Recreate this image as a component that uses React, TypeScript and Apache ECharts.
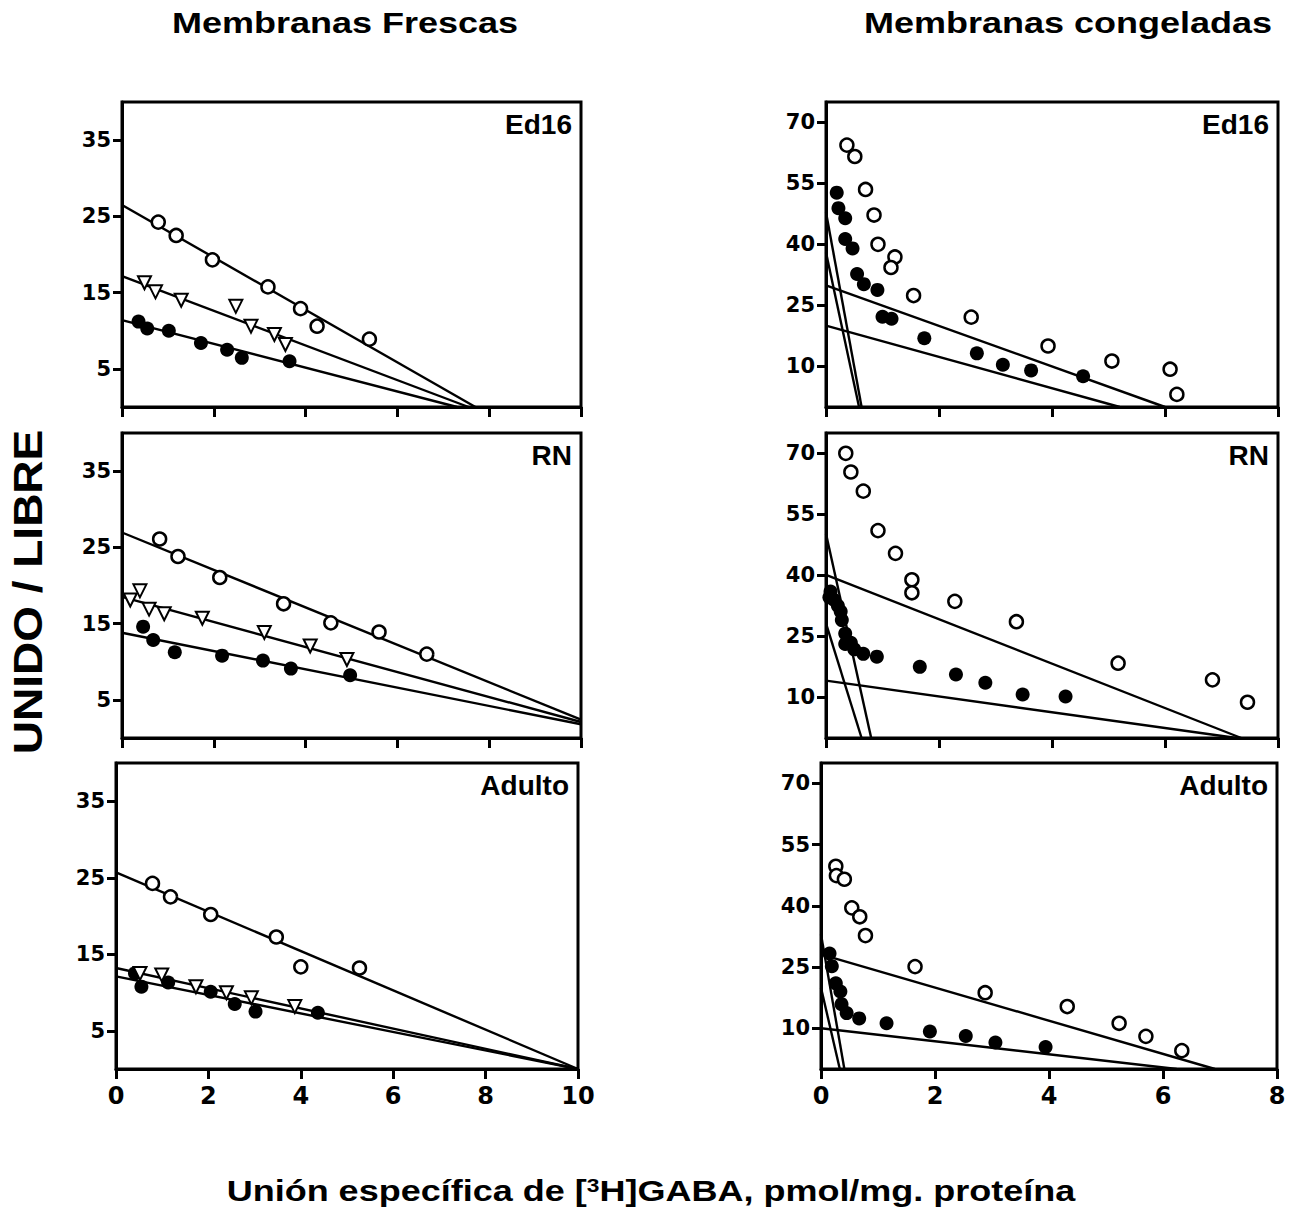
import React, { useEffect, useRef } from "react";
import * as echarts from "echarts";

// ---------- DATA ----------
// Left column: "Membranas Frescas" (x: 0-10, y: 0-40)
const leftYTicks = [5, 15, 25, 35];
const rightYTicks = [10, 25, 40, 55, 70];

// Ed16 fresh
const fEd16Open = [[0.79, 24.25], [1.18, 22.5], [1.97, 19.3], [3.18, 15.75], [3.89, 12.9], [4.25, 10.6], [5.39, 8.9]];
const fEd16Tri = [[0.49, 16.3], [0.73, 15.1], [1.29, 14.0], [2.48, 13.2], [2.81, 10.6], [3.32, 9.5], [3.56, 8.2]];
const fEd16Fill = [[0.36, 11.2], [0.55, 10.3], [1.02, 10.0], [1.72, 8.4], [2.29, 7.5], [2.61, 6.45], [3.65, 6.0]];
const fEd16Lines = [[[0, 26.5], [7.7, 0]], [[0, 17.15], [7.55, 0]], [[0, 11.4], [7.3, 0]]];

// RN fresh
const fRNOpen = [[0.82, 26.1], [1.22, 23.8], [2.13, 21.05], [3.52, 17.6], [4.55, 15.1], [5.6, 13.9], [6.64, 11.0]];
const fRNTri = [[0.18, 18.1], [0.39, 19.3], [0.59, 16.9], [0.92, 16.3], [1.75, 15.7], [3.1, 13.85], [4.1, 12.06], [4.9, 10.3]];
const fRNFill = [[0.46, 14.6], [0.68, 12.85], [1.15, 11.24], [2.18, 10.8], [3.07, 10.15], [3.68, 9.1], [4.97, 8.23]];
const fRNLines = [[[0, 26.95], [10, 2.4]], [[0, 18.5], [10, 2.1]], [[0, 13.8], [10, 1.8]]];

// Adulto fresh
const fAdOpen = [[0.79, 24.26], [1.18, 22.5], [2.05, 20.2], [3.47, 17.25], [4.0, 13.35], [5.27, 13.2]];
const fAdTri = [[0.52, 12.5], [0.99, 12.3], [1.73, 10.76], [2.39, 9.98], [2.93, 9.3], [3.87, 8.16]];
const fAdFill = [[0.41, 12.5], [0.55, 10.76], [1.13, 11.3], [2.05, 10.1], [2.57, 8.5], [3.02, 7.5], [4.37, 7.36]];
const fAdLines = [[[0, 25.7], [10, 0]], [[0, 13.2], [10, 0]], [[0, 12.1], [10, 0]]];

// Right column: "Membranas congeladas" (x: 0-8, y: 0-75)
// Ed16 frozen
const cEd16Open = [[0.37, 64.4], [0.51, 61.6], [0.7, 53.5], [0.85, 47.2], [0.92, 40.0], [1.22, 36.9], [1.15, 34.3], [1.55, 27.4], [2.57, 22.1], [3.93, 15.0], [5.06, 11.3], [6.09, 9.3], [6.21, 3.1]];
const cEd16Fill = [[0.19, 52.7], [0.22, 48.9], [0.34, 46.4], [0.34, 41.3], [0.47, 39.0], [0.55, 32.7], [0.67, 30.2], [0.91, 28.8], [1.0, 22.2], [1.16, 21.7], [1.74, 16.9], [2.67, 13.2], [3.13, 10.4], [3.63, 9.0], [4.55, 7.55]];
const cEd16Lines = [[[0, 47.9], [0.63, 0]], [[0, 38.0], [0.585, 0]], [[0, 29.9], [6.0, 0]], [[0, 20.0], [5.2, 0]]];

// RN frozen
const cRNOpen = [[0.35, 70.0], [0.44, 65.4], [0.66, 60.7], [0.92, 51.0], [1.23, 45.4], [1.52, 38.9], [1.52, 35.7], [2.28, 33.6], [3.37, 28.6], [5.17, 18.4], [6.84, 14.3], [7.46, 8.8]];
const cRNFill = [[0.08, 36.0], [0.06, 34.6], [0.14, 34.0], [0.21, 32.5], [0.26, 31.1], [0.28, 29.0], [0.34, 25.7], [0.34, 23.1], [0.44, 23.4], [0.5, 21.8], [0.66, 20.7], [0.9, 20.0], [1.66, 17.5], [2.3, 15.6], [2.82, 13.6], [3.48, 10.7], [4.24, 10.2]];
const cRNLines = [[[0, 50.2], [0.8, 0]], [[0, 28.2], [0.63, 0]], [[0, 40.1], [7.35, 0]], [[0, 14.1], [7.27, 0]]];

// Adulto frozen
const cAdOpen = [[0.26, 49.7], [0.27, 47.4], [0.41, 46.5], [0.54, 39.5], [0.68, 37.3], [0.78, 32.7], [1.65, 25.1], [2.88, 18.7], [4.32, 15.3], [5.23, 11.2], [5.7, 8.0], [6.33, 4.5]];
const cAdFill = [[0.15, 28.3], [0.19, 25.2], [0.26, 21.0], [0.34, 19.0], [0.36, 15.9], [0.45, 13.7], [0.67, 12.4], [1.15, 11.2], [1.91, 9.2], [2.54, 8.1], [3.06, 6.5], [3.94, 5.4]];
const cAdLines = [[[0, 33.0], [0.41, 0]], [[0, 19.9], [0.33, 0]], [[0, 28.1], [6.91, 0]], [[0, 10.0], [6.24, 0]]];

const panelLabels = ["Ed16", "RN", "Adulto", "Ed16", "RN", "Adulto"];
const colTitles = ["Membranas Frescas", "Membranas congeladas"];
const yTitle = "UNIDO / LIBRE";

// ---------- LAYOUT ----------
const FONT = "Liberation Sans, Arial, sans-serif";
const TICKFONT = "DejaVu Sans, Liberation Sans, sans-serif";
const grids = [
  { left: 122, top: 102, width: 459, height: 305 },
  { left: 122, top: 433, width: 459, height: 305 },
  { left: 116, top: 763, width: 462, height: 306 },
  { left: 826, top: 102, width: 452, height: 305 },
  { left: 826, top: 433, width: 452, height: 305 },
  { left: 821, top: 763, width: 456, height: 306 },
];

function buildOption() {
  const panels = [
    { open: fEd16Open, tri: fEd16Tri, fill: fEd16Fill, lines: fEd16Lines },
    { open: fRNOpen, tri: fRNTri, fill: fRNFill, lines: fRNLines },
    { open: fAdOpen, tri: fAdTri, fill: fAdFill, lines: fAdLines },
    { open: cEd16Open, tri: null, fill: cEd16Fill, lines: cEd16Lines },
    { open: cRNOpen, tri: null, fill: cRNFill, lines: cRNLines },
    { open: cAdOpen, tri: null, fill: cAdFill, lines: cAdLines },
  ];

  const xAxis: any[] = [];
  const yAxis: any[] = [];
  const series: any[] = [];
  const graphic: any[] = [];

  panels.forEach((p, i) => {
    const isLeft = i < 3;
    const isBottom = i === 2 || i === 5;
    xAxis.push({
      type: "value",
      gridIndex: i,
      min: 0,
      max: isLeft ? 10 : 8,
      interval: 2,
      axisLine: { show: true, onZero: false, lineStyle: { color: "#000", width: 3 } },
      axisTick: { show: true, length: 10, lineStyle: { color: "#000", width: 3 } },
      axisLabel: {
        show: isBottom,
        color: "#000",
        fontFamily: TICKFONT,
        fontWeight: "bold",
        fontSize: 24,
        margin: 15,
        showMaxLabel: true,
        showMinLabel: true,
      },
      splitLine: { show: false },
    });
    const ticks = isLeft ? leftYTicks : rightYTicks;
    yAxis.push({
      type: "value",
      gridIndex: i,
      min: 0,
      max: isLeft ? 40 : 75,
      axisLine: { show: true, onZero: false, lineStyle: { color: "#000", width: 3 } },
      axisTick: { show: true, length: 9, customValues: ticks, lineStyle: { color: "#000", width: 3 } },
      axisLabel: {
        color: "#000",
        fontFamily: TICKFONT,
        fontWeight: "bold",
        fontSize: 21,
        margin: 11,
        customValues: ticks,
      },
      splitLine: { show: false },
    });

    p.lines.forEach((ln) => {
      series.push({
        type: "line",
        xAxisIndex: i,
        yAxisIndex: i,
        data: ln,
        symbol: "none",
        clip: true,
        lineStyle: { color: "#000", width: 2.4 },
        z: 2,
      });
    });
    series.push({
      type: "scatter",
      xAxisIndex: i,
      yAxisIndex: i,
      data: p.fill,
      symbol: "circle",
      symbolSize: 14,
      itemStyle: { color: "#000", opacity: 1 },
      z: 3,
    });
    if (p.tri) {
      series.push({
        type: "scatter",
        xAxisIndex: i,
        yAxisIndex: i,
        data: p.tri,
        symbol: "triangle",
        symbolRotate: 180,
        symbolSize: 13,
        itemStyle: { color: "#fff", borderColor: "#000", borderWidth: 2, opacity: 1 },
        z: 4,
      });
    }
    series.push({
      type: "scatter",
      xAxisIndex: i,
      yAxisIndex: i,
      data: p.open,
      symbol: "circle",
      symbolSize: 13,
      itemStyle: { color: "#fff", borderColor: "#000", borderWidth: 2.5, opacity: 1 },
      z: 4,
    });

    const g = grids[i];
    graphic.push({
      type: "text",
      x: g.left + g.width - 9,
      y: g.top + 8,
      style: {
        text: panelLabels[i],
        fontFamily: FONT,
        fontWeight: "bold",
        fontSize: 28,
        fill: "#000",
        align: "right",
        verticalAlign: "top",
      },
    });
  });

  graphic.push(
    {
      type: "text",
      x: 345,
      y: 23,
      scaleX: 1.2,
      style: { text: colTitles[0], fontFamily: FONT, fontWeight: "bold", fontSize: 30, fill: "#000", align: "center", verticalAlign: "middle" },
    },
    {
      type: "text",
      x: 1068,
      y: 23,
      scaleX: 1.2,
      style: { text: colTitles[1], fontFamily: FONT, fontWeight: "bold", fontSize: 30, fill: "#000", align: "center", verticalAlign: "middle" },
    },
    {
      type: "text",
      x: 28,
      y: 592,
      rotation: Math.PI / 2,
      scaleX: 1.15,
      style: { text: yTitle, fontFamily: FONT, fontWeight: "bold", fontSize: 40, fill: "#000", align: "center", verticalAlign: "middle" },
    },
    {
      type: "text",
      x: 651,
      y: 1191,
      scaleX: 1.2,
      style: {
        text: "{a|Unión específica de [}{s|3}{a|H]GABA, pmol/mg. proteína}",
        align: "center",
        verticalAlign: "middle",
        rich: {
          a: { fontFamily: FONT, fontWeight: "bold", fontSize: 30, fill: "#000", color: "#000" },
          s: { fontFamily: FONT, fontWeight: "bold", fontSize: 19, fill: "#000", color: "#000", verticalAlign: "top", padding: [0, 0, 12, 0] },
        },
      },
    }
  );

  return {
    animation: false,
    backgroundColor: "#fff",
    grid: grids.map((g) => ({ ...g, show: true, borderColor: "#000", borderWidth: 3, backgroundColor: "transparent" })),
    xAxis,
    yAxis,
    series,
    graphic,
  };
}

export default function App() {
  const ref = useRef<HTMLDivElement>(null);
  useEffect(() => {
    if (!ref.current) return;
    const chart = echarts.init(ref.current, undefined, { renderer: "svg" });
    chart.setOption(buildOption() as any);
    return () => chart.dispose();
  }, []);
  return (
    <div
      ref={ref}
      style={{ position: "absolute", left: 0, top: 0, width: 1300, height: 1221, background: "#fff" }}
    />
  );
}
